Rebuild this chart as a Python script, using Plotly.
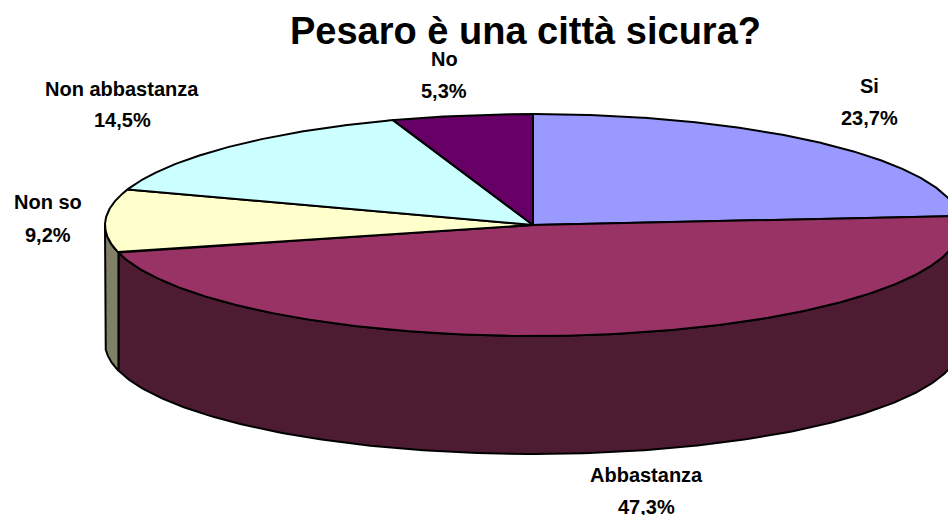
import numpy as np
import plotly.graph_objects as go

categories = ["Si", "Abbastanza", "Non so", "Non abbastanza", "No"]
values = [23.7, 47.3, 9.2, 14.5, 5.3]
value_labels = ["23,7%", "47,3%", "9,2%", "14,5%", "5,3%"]
top_colors = ["#9999FF", "#993366", "#FFFFCC", "#CCFFFF", "#660066"]
side_colors = ["#4D4D80", "#4D1C33", "#808066", "#668080", "#330033"]
title_text = "Pesaro è una città sicura?"

WIDTH, HEIGHT = 948, 515
CX, CY, RX, RY, DEPTH = 533, 225, 428, 111, 118
LINE = "#000000"

total = sum(values)
fracs = np.cumsum([0] + values) / total * 2 * np.pi  # clockwise from 12 o'clock


def ellipse(a):
    return CX + RX * np.sin(a), CY - RY * np.cos(a)


fig = go.Figure()


def poly(xs, ys, color):
    fig.add_trace(go.Scatter(
        x=list(xs), y=list(ys), mode="lines", fill="toself", fillcolor=color,
        line=dict(color=LINE, width=2), hoverinfo="skip", showlegend=False,
    ))


# Outer wall: only the front half (angle between 90 and 270 degrees) is visible
for i in range(len(values)):
    a0 = max(fracs[i], np.pi / 2)
    a1 = min(fracs[i + 1], 3 * np.pi / 2)
    if a1 <= a0:
        continue
    t = np.linspace(a0, a1, 200)
    x, y = ellipse(t)
    poly(np.r_[x, x[::-1], x[0]], np.r_[y, y[::-1] + DEPTH, y[0]], side_colors[i])

# Top face
for i in range(len(values)):
    t = np.linspace(fracs[i], fracs[i + 1], 300)
    x, y = ellipse(t)
    poly(np.r_[CX, x, CX], np.r_[CY, y, CY], top_colors[i])

label_pos = {
    "Si": (869, 86, 118),
    "Abbastanza": (646, 475, 507),
    "Non so": (48, 202, 235),
    "Non abbastanza": (122, 89, 120),
    "No": (444, 59, 91),
}
annotations = [dict(x=(WIDTH - 4) / 2 + 53, y=31, text=f"<b>{title_text}</b>", showarrow=False,
                    font=dict(size=38, color="#000000", family="Liberation Sans"))]
for c, v in zip(categories, value_labels):
    x, y1, y2 = label_pos[c]
    for y, s in ((y1, c), (y2, v)):
        annotations.append(dict(x=x, y=y, text=f"<b>{s}</b>", showarrow=False,
                                font=dict(size=20, color="#000000", family="Liberation Sans")))

fig.update_layout(
    width=WIDTH, height=HEIGHT, autosize=False,
    margin=dict(l=0, r=0, t=0, b=0),
    paper_bgcolor="#FFFFFF", plot_bgcolor="#FFFFFF",
    xaxis=dict(range=[0, WIDTH], visible=False, fixedrange=True),
    yaxis=dict(range=[HEIGHT, 0], visible=False, fixedrange=True),
    annotations=annotations,
)
fig.write_html("out.html", config={"displayModeBar": False},
               post_script="document.body.style.margin='0';document.body.style.overflow='hidden';")
